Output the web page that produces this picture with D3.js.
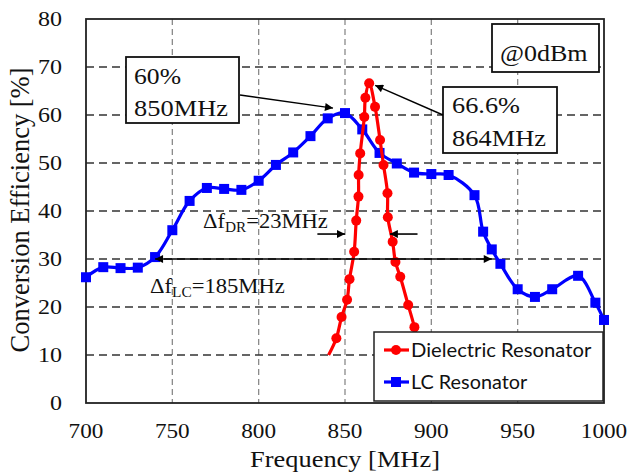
<!DOCTYPE html>
<html><head><meta charset="utf-8">
<script src="https://cdn.jsdelivr.net/npm/d3@7"></script>
<style>body{margin:0;background:#fff}svg{display:block}
.sf{font-family:"Liberation Serif","Tinos","Times New Roman","DejaVu Serif",serif}
.ss{font-family:"Lato","Open Sans",sans-serif}
</style>
</head><body>
<svg id="c" width="629" height="475"></svg>
<script>
const xTicks = [700, 750, 800, 850, 900, 950, 1000];
const yTicks = [0, 10, 20, 30, 40, 50, 60, 70, 80];
const lcFreq = [700,710,720,730,740,750,760,770,780,790,800,810,820,830,840,850,860,870,880,890,900,910,925,930,935,940,950,960,970,985,995,1000];
const lcEff  = [26.2,28.3,28.1,28.2,30.4,36,42.1,44.8,44.6,44.4,46.3,49.6,52.2,55.6,59.3,60.4,57,52.1,49.9,48,47.7,47.5,43.3,35.7,32,29,23.7,22.1,23.7,26.5,20.9,17.3];
const drFreq = [840.5,845,848,851.2,852.6,855.3,856.5,857.8,857.9,858.8,861.2,861.8,864,867.4,870.3,872.3,874.6,874.8,877.6,879.2,882,886.6,890.2,895];
const drEff  = [10,13.5,17.9,21.5,25.8,31.5,38,43,47.5,52,59.6,63.6,66.6,61.7,54.8,49.6,43.7,38.7,33.6,29.4,26.3,20.4,15.8,8];
const seriesNames = ["Dielectric Resonator", "LC Resonator"];

const svg = d3.select("#c");
const L = 86, R = 604, T = 19, B = 403;
const x = d3.scaleLinear().domain([700, 1000]).range([L, R]);
const y = d3.scaleLinear().domain([0, 80]).range([B, T]);

// text helper: stretched horizontally by k, or fitted to width w
function txt(px, py, str, size, opts = {}) {
  const g = svg.append("g");
  const t = g.append("text").attr("class", opts.cls || "sf").style("font-size", size + "px")
    .attr("fill", "#111").attr("text-anchor", opts.anchor || "start");
  if (typeof str === "string") t.text(str); else str(t);
  let k = opts.k || 1;
  if (opts.w) k = opts.w / t.node().getBBox().width;
  g.attr("transform", `translate(${px},${py}) scale(${k},1)` + (opts.rot ? ` rotate(${opts.rot})` : ""));
  return g;
}

// grid
svg.append("g").selectAll("line").data(xTicks.slice(1, -1)).join("line")
  .attr("x1", d => x(d)).attr("x2", d => x(d)).attr("y1", T).attr("y2", B)
  .attr("stroke", "#8a8a8a").attr("stroke-width", 1.3).attr("stroke-dasharray", "6,4");
svg.append("g").selectAll("line").data(yTicks.slice(1, -1)).join("line")
  .attr("x1", L).attr("x2", R).attr("y1", d => y(d)).attr("y2", d => y(d))
  .attr("stroke", "#333").attr("stroke-width", 1.3).attr("stroke-dasharray", "8,5");

// tick labels through scales
xTicks.forEach(d => txt(x(d), 438, String(d), 20, { k: 1.16, anchor: "middle" }));
yTicks.forEach(d => txt(62, y(d) + 6.8, String(d), 20, { k: 1.2, anchor: "end" }));

// axis titles
txt(345, 467, "Frequency [MHz]", 23, { w: 190, anchor: "middle" });
{
  const g = svg.append("g").attr("transform", "translate(29,210) scale(1.12,1) rotate(-90)");
  const t = g.append("text").attr("class", "sf").style("font-size", "24px").attr("fill", "#111")
    .attr("text-anchor", "middle").text("Conversion Efficiency [%]");
  t.attr("textLength", 285).attr("lengthAdjust", "spacingAndGlyphs");
}

// defs arrow
const defs = svg.append("defs");
defs.append("marker").attr("id", "ah").attr("viewBox", "0 0 10 10").attr("refX", 10).attr("refY", 5)
  .attr("markerWidth", 10).attr("markerHeight", 8).attr("markerUnits", "userSpaceOnUse").attr("orient", "auto-start-reverse")
  .append("path").attr("d", "M0,0L10,5L0,10z").attr("fill", "#000");

// frame
svg.append("rect").attr("x", L).attr("y", T).attr("width", R - L).attr("height", B - T)
  .attr("fill", "none").attr("stroke", "#222").attr("stroke-width", 1.8);

// series
const lc = lcFreq.map((f, i) => [f, lcEff[i]]);
const dr = drFreq.map((f, i) => [f, drEff[i]]);
const line = d3.line().x(d => x(d[0])).y(d => y(d[1])).curve(d3.curveCatmullRom.alpha(0.5));
const gS = svg.append("g");
gS.append("path").attr("d", line(lc)).attr("fill", "none").attr("stroke", "#0000ff").attr("stroke-width", 3.2);
gS.selectAll("rect.m").data(lc).join("rect").attr("class", "m")
  .attr("x", d => x(d[0]) - 5).attr("y", d => y(d[1]) - 5).attr("width", 10).attr("height", 10).attr("fill", "#0000ff");
gS.append("path").attr("d", line(dr)).attr("fill", "none").attr("stroke", "#ff0000").attr("stroke-width", 3.2);
gS.selectAll("circle.m").data(dr.slice(1, -1)).join("circle").attr("class", "m")
  .attr("cx", d => x(d[0])).attr("cy", d => y(d[1])).attr("r", 5).attr("fill", "#ff0000");

// delta f LC arrow
svg.append("line").attr("x1", x(740)).attr("x2", x(935)).attr("y1", y(30)).attr("y2", y(30))
  .attr("stroke", "#000").attr("stroke-width", 1.6)
  .attr("marker-start", "url(#ah)").attr("marker-end", "url(#ah)");
// delta f DR arrows
svg.append("line").attr("x1", x(834)).attr("x2", x(850)).attr("y1", y(35.2)).attr("y2", y(35.2))
  .attr("stroke", "#000").attr("stroke-width", 1.6).attr("marker-end", "url(#ah)");
svg.append("line").attr("x1", x(892)).attr("x2", x(876)).attr("y1", y(35.2)).attr("y2", y(35.2))
  .attr("stroke", "#000").attr("stroke-width", 1.6).attr("marker-end", "url(#ah)");

function subText(main, s, rest, fs) {
  return t => {
    t.append("tspan").text(main);
    t.append("tspan").style("font-size", (fs * 0.68) + "px").attr("dy", 4).text(s);
    t.append("tspan").attr("dy", -4).text(rest);
  };
}
txt(203, 228, subText("\u0394f", "DR", "=23MHz", 20), 20, { w: 125 });
txt(150, 293, subText("\u0394f", "LC", "=185MHz", 20), 20, { w: 135 });

// callout boxes
function box(x0, y0, w, h) {
  svg.append("rect").attr("x", x0).attr("y", y0).attr("width", w).attr("height", h)
    .attr("fill", "#fff").attr("stroke", "#111").attr("stroke-width", 1.8);
}
box(126, 57, 113, 66);
txt(134, 84, "60%", 24, { w: 47 });
txt(134, 116, "850MHz", 24, { w: 94 });
box(443, 87, 114, 66);
txt(452, 113, "66.6%", 24, { w: 68 });
txt(452, 146, "864MHz", 24, { w: 94 });
box(492, 24, 107, 48);
txt(500, 61, "@0dBm", 24, { w: 88 });
svg.append("line").attr("x1", 240).attr("y1", 95).attr("x2", x(850) - 12).attr("y2", y(60.4) - 5)
  .attr("stroke", "#000").attr("stroke-width", 1.4).attr("marker-end", "url(#ah)");
svg.append("line").attr("x1", 443).attr("y1", 115).attr("x2", x(864) + 6).attr("y2", y(66.6) + 2)
  .attr("stroke", "#000").attr("stroke-width", 1.4).attr("marker-end", "url(#ah)");

// legend
svg.append("rect").attr("x", 374).attr("y", 332).attr("width", 229).attr("height", 69)
  .attr("fill", "#fff").attr("stroke", "#222").attr("stroke-width", 1.5);
const colors = ["#ff0000", "#0000ff"];
const legW = [181, 117];
seriesNames.forEach((n, i) => {
  const yy = 350 + i * 32;
  svg.append("line").attr("x1", 384).attr("x2", 409).attr("y1", yy).attr("y2", yy)
    .attr("stroke", colors[i]).attr("stroke-width", 3.2);
  if (i === 0) svg.append("circle").attr("cx", 396).attr("cy", yy).attr("r", 5).attr("fill", colors[i]);
  else svg.append("rect").attr("x", 391).attr("y", yy - 5).attr("width", 10).attr("height", 10).attr("fill", colors[i]);
  txt(411, yy + 7, n, 20, { cls: "ss", w: legW[i] });
});
</script>
</body></html>
